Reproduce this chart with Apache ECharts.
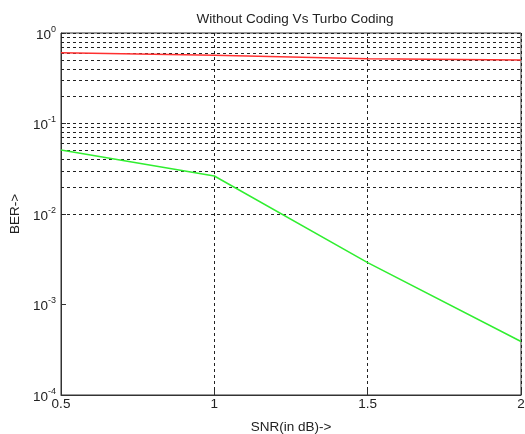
<!DOCTYPE html>
<html>
<head>
<meta charset="utf-8">
<script src="https://cdn.jsdelivr.net/npm/echarts@6/dist/echarts.min.js"></script>
<style>html,body{margin:0;padding:0;background:#fff}#c{width:525px;height:434px}</style>
</head>
<body>
<div id="c"></div>
<script>
const snr = [0.5, 1.0, 1.5, 2.0];
const berUncoded = [0.606, 0.567, 0.520, 0.503];
const berTurbo = [0.0509, 0.0263, 0.0029, 0.00039];
const xTicks = [0.5, 1, 1.5, 2];
const yDecades = [1e-4, 1e-3, 1e-2, 1e-1, 1];
const minorMultipliers = [2, 3, 4, 5, 6, 7, 8, 9];

const gridValues = [];
for (let i = 0; i < yDecades.length; i++) {
  gridValues.push(yDecades[i]);
  if (i < yDecades.length - 1) {
    minorMultipliers.forEach(m => gridValues.push(m * yDecades[i]));
  }
}

const font = 'Liberation Sans, Arial, sans-serif';
const chart = echarts.init(document.getElementById('c'));
chart.setOption({
  animation: false,
  title: {
    text: 'Without Coding Vs Turbo Coding',
    left: 290, top: 7, textAlign: 'center',
    textStyle: {fontFamily: font, fontSize: 13.5, fontWeight: 'normal', color: '#222'}
  },
  grid: {left: 61, top: 33, right: 4, bottom: 39, containLabel: false, outerBoundsMode: 'none',
    show: true, borderColor: '#333', borderWidth: 1, backgroundColor: '#fff'},
  xAxis: {
    type: 'value', min: 0.5, max: 2, interval: 0.5,
    name: 'SNR(in dB)->', nameLocation: 'middle', nameGap: 25,
    nameTextStyle: {fontFamily: font, fontSize: 13.5, color: '#222'},
    axisLine: {lineStyle: {color: '#333'}},
    axisTick: {show: true, inside: true, length: 5, lineStyle: {color: '#333'}},
    axisLabel: {fontFamily: font, fontSize: 13.5, color: '#222', margin: 2,
      formatter: v => String(v)},
    splitLine: {show: true, lineStyle: {color: '#222', type: [3, 3], width: 1}}
  },
  yAxis: {
    type: 'log', logBase: 10, min: 1e-4, max: 1, interval: 1,
    name: 'BER->', nameLocation: 'middle', nameGap: 35, nameRotate: 90,
    nameTextStyle: {fontFamily: font, fontSize: 13.5, color: '#222'},
    axisLine: {show: true, lineStyle: {color: '#333'}},
    axisTick: {show: true, inside: true, length: 5, lineStyle: {color: '#333'}},
    axisLabel: {
      margin: 5,
      formatter: v => '{b|10}{s|' + Math.round(Math.log10(v)) + '}',
      rich: {
        b: {fontFamily: font, fontSize: 13.5, color: '#222', padding: [4, 0, 0, 0]},
        s: {fontFamily: font, fontSize: 9, color: '#222', padding: [0, 0, 7, 0]}
      }
    },
    splitLine: {show: false}
  },
  series: [
    {
      type: 'line', data: snr.map((x, i) => [x, berUncoded[i]]),
      showSymbol: false, lineStyle: {color: '#ff3030', width: 1.5}, z: 5,
      markLine: {
        silent: true, symbol: 'none', label: {show: false},
        lineStyle: {color: '#222', type: [3, 3], width: 1},
        data: gridValues.map(v => ({yAxis: v})),
        z: 1
      }
    },
    {
      type: 'line', data: snr.map((x, i) => [x, berTurbo[i]]),
      showSymbol: false, lineStyle: {color: '#30ee30', width: 1.5}, z: 5
    }
  ]
});
</script>
</body>
</html>
